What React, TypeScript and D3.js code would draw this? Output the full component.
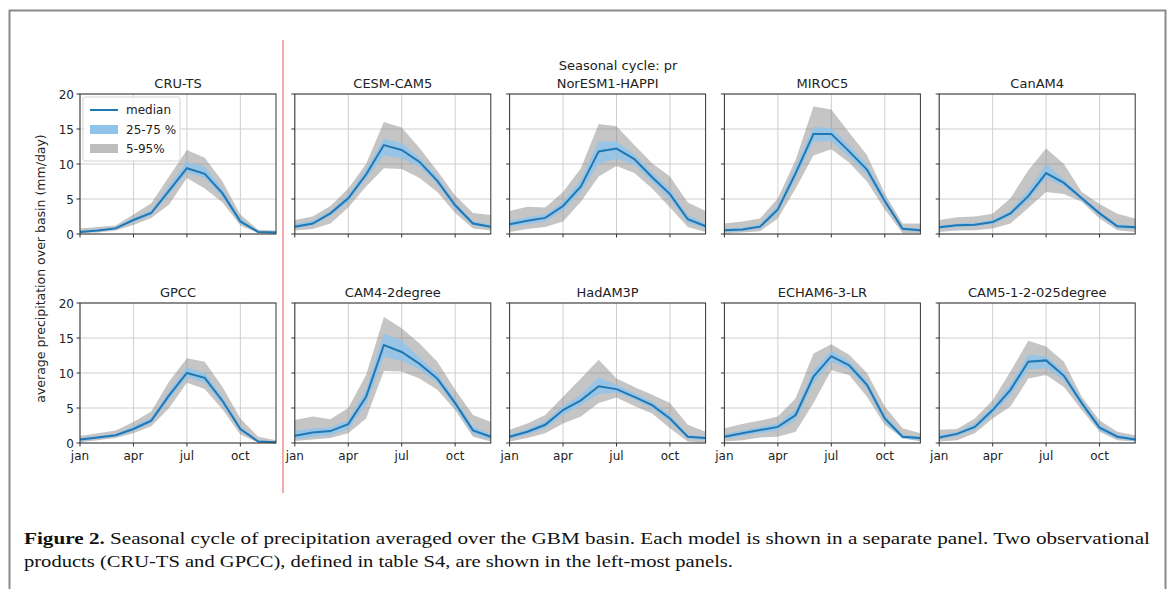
import React from "react";
import { scaleLinear, area, line } from "d3";

// month ticks and y ticks
const months = ["jan", "feb", "mar", "apr", "may", "jun", "jul", "aug", "sep", "oct", "nov", "dec"];
const xTickMonths = [0, 3, 6, 9];
const yTicks = [0, 5, 10, 15, 20];

// CRU-TS
const cruMed = [0.3, 0.5, 0.8, 2.0, 3.0, 6.2, 9.4, 8.6, 5.8, 1.8, 0.3, 0.2];
const cruQ25 = [0.2, 0.4, 0.7, 1.7, 2.7, 5.6, 8.8, 8.0, 5.3, 1.5, 0.2, 0.1];
const cruQ75 = [0.5, 0.7, 1.0, 2.3, 3.4, 6.9, 10.3, 9.6, 6.4, 2.2, 0.4, 0.3];
const cruP5 = [0.1, 0.2, 0.5, 1.3, 2.3, 4.2, 8.0, 6.5, 4.5, 1.2, 0.1, 0.05];
const cruP95 = [0.8, 1.0, 1.2, 2.8, 4.4, 8.2, 12.0, 10.9, 7.5, 2.8, 0.6, 0.5];

// GPCC
const gpccMed = [0.5, 0.8, 1.1, 2.0, 3.2, 6.8, 10.0, 9.3, 6.0, 2.0, 0.2, 0.1];
const gpccQ25 = [0.3, 0.6, 0.9, 1.7, 2.9, 6.2, 9.4, 8.6, 5.5, 1.7, 0.1, 0.05];
const gpccQ75 = [0.7, 1.0, 1.3, 2.4, 3.6, 7.4, 10.8, 10.0, 6.6, 2.4, 0.4, 0.2];
const gpccP5 = [0.1, 0.4, 0.7, 1.4, 2.4, 5.0, 8.6, 7.7, 4.8, 1.2, 0.05, 0.0];
const gpccP95 = [1.0, 1.4, 1.8, 3.0, 4.5, 8.8, 12.1, 11.6, 8.0, 3.5, 0.9, 0.4];

// CESM-CAM5
const cesmMed = [1.05, 1.5, 2.95, 5.1, 8.5, 12.7, 12.0, 10.3, 7.6, 4.1, 1.5, 1.05];
const cesmQ25 = [0.8, 1.2, 2.6, 4.6, 7.9, 11.2, 10.8, 9.6, 7.1, 3.6, 1.2, 0.8];
const cesmQ75 = [1.4, 1.9, 3.3, 5.6, 9.2, 13.6, 13.0, 10.9, 8.2, 4.5, 1.8, 1.3];
const cesmP5 = [0.5, 0.7, 1.5, 3.8, 6.8, 9.4, 9.3, 8.0, 6.0, 3.0, 0.8, 0.5];
const cesmP95 = [2.0, 2.5, 4.0, 6.5, 10.0, 16.0, 15.2, 12.3, 9.0, 5.5, 3.0, 2.7];

// NorESM1-HAPPI
const norMed = [1.4, 1.9, 2.3, 4.0, 6.8, 11.8, 12.2, 10.7, 8.1, 5.7, 2.1, 1.1];
const norQ25 = [1.0, 1.4, 1.8, 3.4, 6.0, 10.0, 10.8, 9.9, 7.4, 5.0, 1.6, 0.8];
const norQ75 = [1.9, 2.4, 2.8, 4.6, 7.8, 13.2, 13.2, 11.4, 8.8, 6.4, 2.7, 1.5];
const norP5 = [0.3, 0.7, 1.0, 1.8, 4.6, 8.2, 9.7, 8.7, 6.5, 3.8, 1.0, 0.3];
const norP95 = [3.3, 3.9, 3.8, 6.0, 9.4, 15.7, 15.4, 12.7, 10.1, 8.2, 4.5, 3.3];

// MIROC5
const mirMed = [0.55, 0.65, 1.05, 3.5, 8.7, 14.3, 14.3, 11.8, 9.2, 4.7, 0.75, 0.55];
const mirQ25 = [0.3, 0.4, 0.8, 3.0, 7.9, 13.2, 13.3, 11.0, 8.5, 4.2, 0.5, 0.3];
const mirQ75 = [0.8, 0.9, 1.4, 4.1, 9.6, 15.3, 15.1, 12.6, 9.9, 5.3, 1.0, 0.8];
const mirP5 = [0.1, 0.2, 0.4, 2.2, 6.5, 11.2, 12.1, 10.2, 7.5, 3.5, 0.1, 0.1];
const mirP95 = [1.5, 1.8, 2.2, 5.1, 10.6, 18.2, 17.8, 14.5, 11.3, 5.8, 1.5, 1.5];

// CanAM4
const canMed = [0.95, 1.25, 1.33, 1.7, 2.95, 5.4, 8.7, 7.3, 5.1, 2.95, 1.1, 0.95];
const canQ25 = [0.7, 1.0, 1.1, 1.4, 2.5, 4.8, 8.0, 6.8, 4.8, 2.6, 0.8, 0.7];
const canQ75 = [1.2, 1.5, 1.6, 2.0, 3.4, 6.2, 10.0, 7.8, 5.4, 3.3, 1.4, 1.2];
const canP5 = [0.3, 0.5, 0.55, 0.8, 1.5, 3.7, 6.0, 5.7, 4.6, 2.2, 0.55, 0.3];
const canP95 = [2.0, 2.4, 2.5, 2.9, 5.1, 9.1, 12.2, 10.0, 6.0, 4.3, 2.9, 2.2];

// CAM4-2degree
const cam4Med = [1.05, 1.5, 1.7, 2.7, 6.6, 14.0, 13.0, 11.3, 9.2, 5.7, 1.8, 0.9];
const cam4Q25 = [0.5, 0.9, 1.1, 2.0, 5.5, 12.3, 11.8, 10.5, 8.6, 5.1, 1.2, 0.5];
const cam4Q75 = [1.7, 2.1, 2.2, 3.3, 7.6, 15.6, 14.6, 12.2, 9.9, 6.3, 2.4, 1.3];
const cam4P5 = [0.3, 0.5, 0.7, 1.4, 3.5, 10.3, 10.2, 9.2, 7.6, 4.7, 0.9, 0.2];
const cam4P95 = [3.3, 3.8, 3.4, 5.0, 9.7, 18.0, 16.4, 14.2, 11.6, 7.6, 4.0, 3.0];

// HadAM3P
const hadMed = [0.9, 1.6, 2.6, 4.7, 6.1, 8.1, 7.7, 6.6, 5.4, 3.5, 0.9, 0.7];
const hadQ25 = [0.6, 1.2, 2.1, 4.0, 5.4, 7.0, 7.2, 6.2, 5.0, 3.0, 0.6, 0.4];
const hadQ75 = [1.2, 2.0, 3.1, 5.3, 6.9, 9.4, 8.3, 7.1, 5.9, 4.0, 1.2, 0.9];
const hadP5 = [0.2, 0.7, 1.4, 2.8, 3.8, 5.7, 6.5, 5.3, 4.2, 2.1, 0.2, 0.05];
const hadP95 = [1.9, 2.8, 4.0, 6.6, 9.2, 11.9, 9.2, 8.0, 6.9, 5.7, 2.6, 1.6];

// ECHAM6-3-LR
const echMed = [0.9, 1.4, 1.85, 2.3, 4.0, 9.5, 12.4, 11.1, 8.3, 3.5, 0.9, 0.7];
const echQ25 = [0.6, 1.0, 1.4, 1.8, 3.2, 8.5, 11.6, 10.5, 7.7, 3.0, 0.6, 0.4];
const echQ75 = [1.3, 1.8, 2.3, 2.8, 4.8, 10.4, 13.2, 11.7, 8.9, 4.0, 1.2, 0.9];
const echP5 = [0.2, 0.4, 0.8, 0.9, 1.6, 5.7, 10.4, 9.7, 6.6, 2.6, 0.7, 0.2];
const echP95 = [2.1, 2.7, 3.2, 3.8, 6.4, 12.8, 14.1, 12.6, 10.0, 5.2, 2.1, 1.4];

// CAM5-1-2-025degree
const cam5Med = [0.8, 1.3, 2.3, 4.7, 7.6, 11.6, 11.8, 9.6, 5.7, 2.2, 0.9, 0.5];
const cam5Q25 = [0.5, 1.0, 1.9, 4.1, 6.8, 10.5, 10.7, 9.0, 5.2, 1.8, 0.6, 0.3];
const cam5Q75 = [1.1, 1.6, 2.8, 5.3, 8.4, 12.6, 12.4, 10.2, 6.2, 2.6, 1.2, 0.8];
const cam5P5 = [0.2, 0.4, 1.4, 3.5, 5.2, 9.2, 9.7, 8.0, 4.7, 1.6, 0.4, 0.2];
const cam5P95 = [1.9, 2.0, 3.5, 6.1, 10.2, 14.6, 13.8, 11.6, 6.6, 3.2, 1.6, 1.1];

const panels = [
  { title: "CRU-TS", row: 0, col: 0, med: cruMed, q25: cruQ25, q75: cruQ75, p5: cruP5, p95: cruP95 },
  { title: "CESM-CAM5", row: 0, col: 1, med: cesmMed, q25: cesmQ25, q75: cesmQ75, p5: cesmP5, p95: cesmP95 },
  { title: "NorESM1-HAPPI", row: 0, col: 2, med: norMed, q25: norQ25, q75: norQ75, p5: norP5, p95: norP95 },
  { title: "MIROC5", row: 0, col: 3, med: mirMed, q25: mirQ25, q75: mirQ75, p5: mirP5, p95: mirP95 },
  { title: "CanAM4", row: 0, col: 4, med: canMed, q25: canQ25, q75: canQ75, p5: canP5, p95: canP95 },
  { title: "GPCC", row: 1, col: 0, med: gpccMed, q25: gpccQ25, q75: gpccQ75, p5: gpccP5, p95: gpccP95 },
  { title: "CAM4-2degree", row: 1, col: 1, med: cam4Med, q25: cam4Q25, q75: cam4Q75, p5: cam4P5, p95: cam4P95 },
  { title: "HadAM3P", row: 1, col: 2, med: hadMed, q25: hadQ25, q75: hadQ75, p5: hadP5, p95: hadP95 },
  { title: "ECHAM6-3-LR", row: 1, col: 3, med: echMed, q25: echQ25, q75: echQ75, p5: echP5, p95: echP95 },
  { title: "CAM5-1-2-025degree", row: 1, col: 4, med: cam5Med, q25: cam5Q25, q75: cam5Q75, p5: cam5P5, p95: cam5P95 },
];

const W = 1173;
const H = 589;
const pw = 196;
const ph = 140;
const colLeft = (c: number) => 80 + c * 214.8;
const rowTop = [94, 303];
const font = "DejaVu Sans, sans-serif";

const x = scaleLinear().domain([0, 11]).range([0, pw]);
const y = scaleLinear().domain([0, 20]).range([ph, 0]);

const band = (lo: number[], hi: number[]) =>
  area<number>()
    .x((_, i) => x(i))
    .y0((_, i) => y(lo[i]))
    .y1((_, i) => y(hi[i]))(lo) as string;

const medLine = line<number>()
  .x((_, i) => x(i))
  .y((d) => y(d));

const Panel = ({ p }: { p: (typeof panels)[number] }) => {
  const left = colLeft(p.col);
  const top = rowTop[p.row];
  return (
    <g transform={`translate(${left},${top})`}>
      <text x={pw / 2} y={-6} textAnchor="middle" fontSize={13} fontFamily={font} fill="#222">
        {p.title}
      </text>
      {/* grid */}
      {xTickMonths.map((m) => (
        <line key={"gx" + m} x1={x(m)} x2={x(m)} y1={0} y2={ph} stroke="#cfcfcf" strokeWidth={1} />
      ))}
      {yTicks.map((t) => (
        <line key={"gy" + t} x1={0} x2={pw} y1={y(t)} y2={y(t)} stroke="#cfcfcf" strokeWidth={1} />
      ))}
      {/* bands */}
      <path d={band(p.p5, p.p95)} fill="#7f7f7f" fillOpacity={0.45} />
      <path d={band(p.q25, p.q75)} fill="#8fc3ea" fillOpacity={0.85} />
      <path d={medLine(p.med) as string} fill="none" stroke="#1f77b4" strokeWidth={2} />
      {/* spines */}
      <rect x={0} y={0} width={pw} height={ph} fill="none" stroke="#333" strokeWidth={1} />
      {/* ticks */}
      {yTicks.map((t) => (
        <g key={"ty" + t}>
          <line x1={-3.5} x2={0} y1={y(t)} y2={y(t)} stroke="#333" />
          {p.col === 0 && (
            <text x={-6} y={y(t) + 4.5} textAnchor="end" fontSize={12} fontFamily={font} fill="#222">
              {t}
            </text>
          )}
        </g>
      ))}
      {xTickMonths.map((m) => (
        <g key={"tx" + m}>
          <line x1={x(m)} x2={x(m)} y1={ph} y2={ph + 3.5} stroke="#333" />
          {p.row === 1 && (
            <text x={x(m)} y={ph + 17} textAnchor="middle" fontSize={12} fontFamily={font} fill="#222">
              {months[m]}
            </text>
          )}
        </g>
      ))}
      {p.row === 0 && p.col === 0 && (
        <g transform="translate(3,3)">
          <rect x={0} y={0} width={97} height={64} rx={2} fill="#fff" fillOpacity={0.85} stroke="#d5d5d5" />
          <line x1={7} x2={35} y1={13} y2={13} stroke="#1f77b4" strokeWidth={2} />
          <rect x={7} y={28} width={28} height={9} fill="#8fc3ea" />
          <rect x={7} y={47} width={28} height={9} fill="#bdbdbd" />
          <text x={43} y={17} fontSize={12} fontFamily={font} fill="#222">median</text>
          <text x={43} y={36.5} fontSize={12} fontFamily={font} fill="#222">25-75 %</text>
          <text x={43} y={55.5} fontSize={12} fontFamily={font} fill="#222">5-95%</text>
        </g>
      )}
    </g>
  );
};

export default function App() {
  return (
    <svg width={W} height={H} style={{ position: "absolute", left: 0, top: 0, background: "#fff" }}>
      <rect x={0} y={0} width={W} height={H} fill="#fff" />
      <rect x={9.5} y={10.5} width={1156} height={620} fill="none" stroke="#8a8a8a" strokeWidth={2} />
      <line x1={283} x2={283} y1={40} y2={493} stroke="#f07070" strokeWidth={1.2} />
      <text x={618} y={70} textAnchor="middle" fontSize={13} fontFamily={font} fill="#222">
        Seasonal cycle: pr
      </text>
      <text
        transform={`translate(45,${(rowTop[0] + rowTop[1] + ph) / 2}) rotate(-90)`}
        textAnchor="middle"
        fontSize={12.5}
        fontFamily={font}
        fill="#222"
      >
        average precipitation over basin (mm/day)
      </text>
      {panels.map((p) => (
        <Panel key={p.title} p={p} />
      ))}
      <text x={24} y={544} fontSize={17} fontFamily="Liberation Serif, serif" fill="#111" textLength={1126} lengthAdjust="spacingAndGlyphs">
        <tspan fontWeight="bold">Figure 2.</tspan> Seasonal cycle of precipitation averaged over the GBM basin. Each model is shown in a separate panel. Two observational
      </text>
      <text x={24} y={567} fontSize={17} fontFamily="Liberation Serif, serif" fill="#111" textLength={709} lengthAdjust="spacingAndGlyphs">
        products (CRU-TS and GPCC), defined in table S4, are shown in the left-most panels.
      </text>
    </svg>
  );
}
